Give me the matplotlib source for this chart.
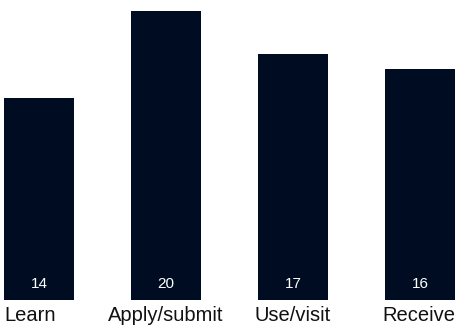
import matplotlib
matplotlib.use("Agg")
import matplotlib.pyplot as plt

categories = ["Learn", "Apply/submit", "Use/visit", "Receive"]
values = [14, 20, 17, 16]

plt.rcParams["font.family"] = ["Liberation Sans", "DejaVu Sans"]

W, H = 455, 329
STEP = 127      # pixels between bar centres
BAR_W = 70      # bar width in pixels
FIRST = 39      # centre of first bar in pixels

fig = plt.figure(figsize=(W / 100, H / 100), dpi=100)
# axes spans the bar area: bottom of bars at y=300px, top of tallest at y=11px
ax = fig.add_axes([0, (H - 300) / H, 1, (300 - 11) / H])
ax.set_xlim(-FIRST / STEP, (W - FIRST) / STEP)
ax.set_ylim(0, max(values))
ax.axis("off")

bar_color = "#000c22"
x = list(range(len(categories)))
ax.bar(x, values, width=BAR_W / STEP, color=bar_color)

for xi, v in zip(x, values):
    ax.annotate(str(v), (xi, 0), xytext=(0, 12.5), textcoords="offset pixels",
                ha="center", va="baseline", color="white", fontsize=11)

half = BAR_W / 2 / STEP
for i, (xi, name) in enumerate(zip(x, categories)):
    if i == 0:
        xx, ha = xi - half, "left"
    elif i == len(categories) - 1:
        xx, ha = xi + half, "right"
    else:
        xx, ha = xi, "center"
    ax.annotate(name, (xx, 0), xytext=(0, -21), textcoords="offset pixels",
                ha=ha, va="baseline", color="#111111", fontsize=14.5,
                annotation_clip=False)

fig.savefig("out.png", dpi=100)
